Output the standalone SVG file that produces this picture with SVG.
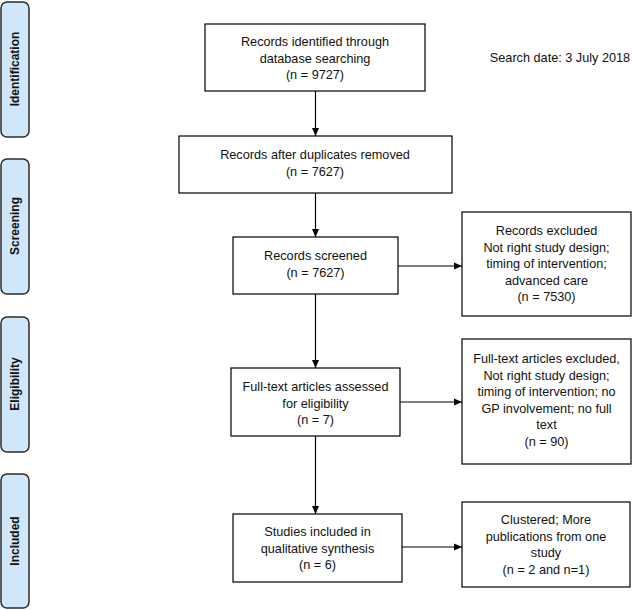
<svg xmlns="http://www.w3.org/2000/svg" width="632" height="610" viewBox="0 0 632 610">
<defs>
<marker id="arr" markerWidth="8" markerHeight="8" refX="8" refY="4" orient="auto" markerUnits="userSpaceOnUse">
<path d="M0,0.5 L8,4 L0,7.5 Z" fill="#000"/>
</marker>
</defs>
<style>
.box{fill:#fff;stroke:#000;stroke-width:1.2}
.phase{fill:#cfe7f9;stroke:#2b2b2b;stroke-width:1.5}
.t{font-family:"Liberation Sans",Arial,sans-serif;font-size:12.7px;fill:#111;text-anchor:middle;dominant-baseline:central}
.p{font-family:"Liberation Sans",Arial,sans-serif;font-size:12px;font-weight:bold;fill:#111;text-anchor:middle;dominant-baseline:central}
.c{stroke:#000;stroke-width:1.2;fill:none;marker-end:url(#arr)}
</style>
<rect width="632" height="610" fill="#fff"/>
<g id="phase-identification"><rect class="phase" x="1" y="2" width="28" height="135" rx="6"/><text class="p" transform="translate(15,69) rotate(-90)">Identification</text></g>
<g id="phase-screening"><rect class="phase" x="1" y="159" width="28" height="135" rx="6"/><text class="p" transform="translate(15,226) rotate(-90)">Screening</text></g>
<g id="phase-eligibility"><rect class="phase" x="1" y="317" width="28" height="135" rx="6"/><text class="p" transform="translate(15,384) rotate(-90)">Eligibility</text></g>
<g id="phase-included"><rect class="phase" x="1" y="474" width="28" height="134" rx="6"/><text class="p" transform="translate(15,541) rotate(-90)">Included</text></g>
<g id="search-date"><text class="t" x="560" y="58">Search date: 3 July 2018</text></g>
<g id="identified"><rect class="box" x="205" y="24" width="220" height="67"/>
<text class="t" x="315" y="42">Records identified through</text><text class="t" x="315" y="58.5">database searching</text><text class="t" x="315" y="75">(n = 9727)</text></g>
<g id="deduplicated"><rect class="box" x="179" y="136" width="273" height="57"/>
<text class="t" x="315" y="155">Records after duplicates removed</text><text class="t" x="315" y="172">(n = 7627)</text></g>
<g id="screened"><rect class="box" x="233" y="237" width="165" height="57"/>
<text class="t" x="315.5" y="256">Records screened</text><text class="t" x="315.5" y="273">(n = 7627)</text></g>
<g id="excluded"><rect class="box" x="462" y="212" width="169" height="104"/>
<text class="t" x="546.5" y="231">Records excluded</text><text class="t" x="546.5" y="247.5">Not right study design;</text><text class="t" x="546.5" y="264">timing of intervention;</text><text class="t" x="546.5" y="280.5">advanced care</text><text class="t" x="546.5" y="297">(n = 7530)</text></g>
<g id="fulltext"><rect class="box" x="231" y="368" width="169" height="68"/>
<text class="t" x="315.5" y="387">Full-text articles assessed</text><text class="t" x="315.5" y="403.5">for eligibility</text><text class="t" x="315.5" y="420">(n = 7)</text></g>
<g id="fulltext-excluded"><rect class="box" x="462" y="339" width="169" height="125"/>
<text class="t" x="546.5" y="359">Full-text articles excluded,</text><text class="t" x="546.5" y="375.5">Not right study design;</text><text class="t" x="546.5" y="392">timing of intervention; no</text><text class="t" x="546.5" y="408.5">GP involvement; no full</text><text class="t" x="546.5" y="425">text</text><text class="t" x="546.5" y="441.5">(n = 90)</text></g>
<g id="included"><rect class="box" x="233" y="514" width="169" height="68"/>
<text class="t" x="317.5" y="532">Studies included in</text><text class="t" x="317.5" y="548.5">qualitative synthesis</text><text class="t" x="317.5" y="565">(n = 6)</text></g>
<g id="clustered"><rect class="box" x="462" y="502" width="168" height="85"/>
<text class="t" x="546" y="520">Clustered; More</text><text class="t" x="546" y="536.5">publications from one</text><text class="t" x="546" y="553">study</text><text class="t" x="546" y="569.5">(n = 2 and n=1)</text></g>
<g id="connectors">
<line class="c" x1="315.5" y1="91" x2="315.5" y2="136"/>
<line class="c" x1="315.5" y1="193" x2="315.5" y2="237"/>
<line class="c" x1="315.5" y1="294" x2="315.5" y2="368"/>
<line class="c" x1="315.5" y1="436" x2="315.5" y2="514"/>
<line class="c" x1="398" y1="266" x2="462" y2="266"/>
<line class="c" x1="400" y1="402" x2="462" y2="402"/>
<line class="c" x1="402" y1="547" x2="462" y2="547"/>
</g>
</svg>
